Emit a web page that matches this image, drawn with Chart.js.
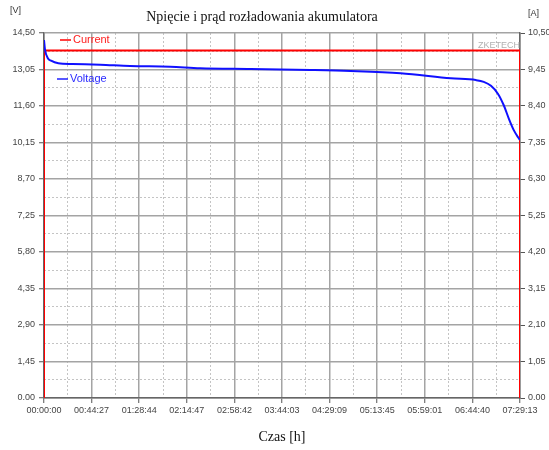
<!DOCTYPE html>
<html>
<head>
<meta charset="utf-8">
<script src="https://cdn.jsdelivr.net/npm/chart.js@4/dist/chart.umd.min.js"></script>
<style>
html,body{margin:0;padding:0;background:#fff;overflow:hidden;}
#wrap{width:556px;height:450px;}
</style>
</head>
<body>
<div id="wrap"><canvas id="c" width="556" height="450"></canvas></div>
<script>
// ---- data ----
const totalSeconds = 26953; // 07:29:13
const timeLabels = ["00:00:00","00:44:27","01:28:44","02:14:47","02:58:42","03:44:03","04:29:09","05:13:45","05:59:01","06:44:40","07:29:13"];
const voltageTickValues = [0,1.45,2.90,4.35,5.80,7.25,8.70,10.15,11.60,13.05,14.50];
const voltageTickLabels = ["0.00","1,45","2,90","4,35","5,80","7,25","8,70","10,15","11,60","13,05","14,50"];
const currentTickValues = [0,1.05,2.10,3.15,4.20,5.25,6.30,7.35,8.40,9.45,10.50];
const currentTickLabels = ["0.00","1,05","2,10","3,15","4,20","5,25","6,30","7,35","8,40","9,45","10,50"];

// time in seconds, voltage in V
const voltageTime = [0,54,216,400,810,1620,3180,4880,7140,8840,11700,15090,17360,20190,23040,24450,24900,25310,25710,26040,26330,26600,26840,26953];
const voltageValues = [14.22,13.85,13.50,13.40,13.30,13.27,13.24,13.19,13.16,13.10,13.07,13.03,12.99,12.90,12.70,12.63,12.56,12.40,12.08,11.62,11.08,10.64,10.36,10.25];

const currentTime = [0,0,26953,26953];
const currentValues = [0,10.0,10.0,0];

// ---- chart ----
const majorX = timeLabels.map((_, i) => i * totalSeconds / 10);
const minorX = timeLabels.slice(0, 10).map((_, i) => (i + 0.5) * totalSeconds / 10);
const minorY = voltageTickValues.slice(0, 10).map((v, i) => (voltageTickValues[i] + voltageTickValues[i + 1]) / 2);

const tickFont = {family: "'Liberation Sans', Arial, sans-serif", size: 9};

const overlay = {
  id: 'overlay',
  afterDraw(chart) {
    const ctx = chart.ctx;
    const a = chart.chartArea;
    ctx.save();
    // title
    ctx.fillStyle = '#111';
    ctx.font = "14px 'Liberation Serif', 'Times New Roman', serif";
    ctx.textAlign = 'center';
    ctx.textBaseline = 'middle';
    ctx.fillText('Npięcie i prąd rozładowania akumulatora', 262, 17);
    // units
    ctx.font = "9px 'Liberation Sans', Arial, sans-serif";
    ctx.fillStyle = '#333';
    ctx.textAlign = 'left';
    ctx.fillText('[V]', 10, 11);
    ctx.fillText('[A]', 528, 14);
    // watermark
    ctx.font = "9px 'Liberation Sans', Arial, sans-serif";
    ctx.fillStyle = '#b0b0b0';
    ctx.fillText('ZKETECH', a.right - 42, a.top + 13);
    // legend
    ctx.font = "11px 'Liberation Sans', Arial, sans-serif";
    ctx.lineWidth = 1.5;
    ctx.strokeStyle = '#ff0000';
    ctx.beginPath(); ctx.moveTo(a.left + 16, a.top + 7); ctx.lineTo(a.left + 27, a.top + 7); ctx.stroke();
    ctx.fillStyle = '#ff2020';
    ctx.fillText('Current', a.left + 29, a.top + 7);
    ctx.strokeStyle = '#2020ff';
    ctx.beginPath(); ctx.moveTo(a.left + 13, a.top + 46); ctx.lineTo(a.left + 24, a.top + 46); ctx.stroke();
    ctx.fillStyle = '#2a2aff';
    ctx.fillText('Voltage', a.left + 26, a.top + 46);
    ctx.restore();
  }
};

new Chart(document.getElementById('c'), {
  type: 'line',
  data: {
    datasets: [
      {
        label: 'Current',
        data: currentTime.map((t, i) => ({x: t, y: currentValues[i]})),
        borderColor: '#ff0000',
        borderWidth: 2,
        pointRadius: 0,
        tension: 0,
        yAxisID: 'y1',
        order: 2
      },
      {
        label: 'Voltage',
        data: voltageTime.map((t, i) => ({x: t, y: voltageValues[i]})),
        borderColor: '#1010ff',
        borderWidth: 2,
        pointRadius: 0,
        cubicInterpolationMode: 'monotone',
        yAxisID: 'y',
        order: 1
      }
    ]
  },
  options: {
    responsive: false,
    animation: false,
    events: [],
    layout: {padding: {top: 33, left: 0, right: 0, bottom: 0}},
    plugins: {legend: {display: false}, title: {display: false}, tooltip: {enabled: false}},
    scales: {
      xMinor: {
        type: 'linear', position: 'bottom', min: 0, max: totalSeconds,
        afterBuildTicks: s => { s.ticks = minorX.map(v => ({value: v})); },
        afterFit: s => { s.height = 0; },
        ticks: {display: false},
        grid: {color: '#c4c4c4', lineWidth: 1, drawTicks: false},
        border: {display: false, dash: [2, 2]}
      },
      yMinor: {
        type: 'linear', position: 'left', min: 0, max: 14.5,
        afterBuildTicks: s => { s.ticks = minorY.map(v => ({value: v})); },
        afterFit: s => { s.width = 0; },
        ticks: {display: false},
        grid: {color: '#c4c4c4', lineWidth: 1, drawTicks: false},
        border: {display: false, dash: [2, 2]}
      },
      x: {
        type: 'linear', position: 'bottom', min: 0, max: totalSeconds,
        afterBuildTicks: s => { s.ticks = majorX.map(v => ({value: v})); },
        afterFit: s => { s.height = 52; },
        ticks: {
          font: tickFont, color: '#444', padding: 2, maxRotation: 0, autoSkip: false,
          callback: (v, i) => timeLabels[i]
        },
        grid: {color: '#a4a4a4', lineWidth: 1.5, tickLength: 5, tickColor: '#555', tickWidth: 1},
        border: {display: true, color: '#666', width: 1.5},
        title: {
          display: true, text: 'Czas [h]', color: '#111',
          font: {family: "'Liberation Serif', 'Times New Roman', serif", size: 14},
          padding: {top: 4, bottom: 4}
        }
      },
      y: {
        type: 'linear', position: 'left', min: 0, max: 14.5,
        afterBuildTicks: s => { s.ticks = voltageTickValues.map(v => ({value: v})); },
        afterFit: s => { s.width = 44; },
        ticks: {
          font: tickFont, color: '#444', padding: 4,
          callback: (v, i) => voltageTickLabels[i]
        },
        grid: {color: '#a4a4a4', lineWidth: 1.5, tickLength: 5, tickColor: '#555', tickWidth: 1},
        border: {display: true, color: '#666', width: 1.5}
      },
      y1: {
        type: 'linear', position: 'right', min: 0, max: 10.5,
        afterBuildTicks: s => { s.ticks = currentTickValues.map(v => ({value: v})); },
        afterFit: s => { s.width = 36; },
        ticks: {
          font: tickFont, color: '#444', padding: 3,
          callback: (v, i) => currentTickLabels[i]
        },
        grid: {drawOnChartArea: false, tickLength: 5, tickColor: '#555', tickWidth: 1},
        border: {display: true, color: '#666', width: 1.5}
      }
    }
  },
  plugins: [overlay]
});
</script>
</body>
</html>
